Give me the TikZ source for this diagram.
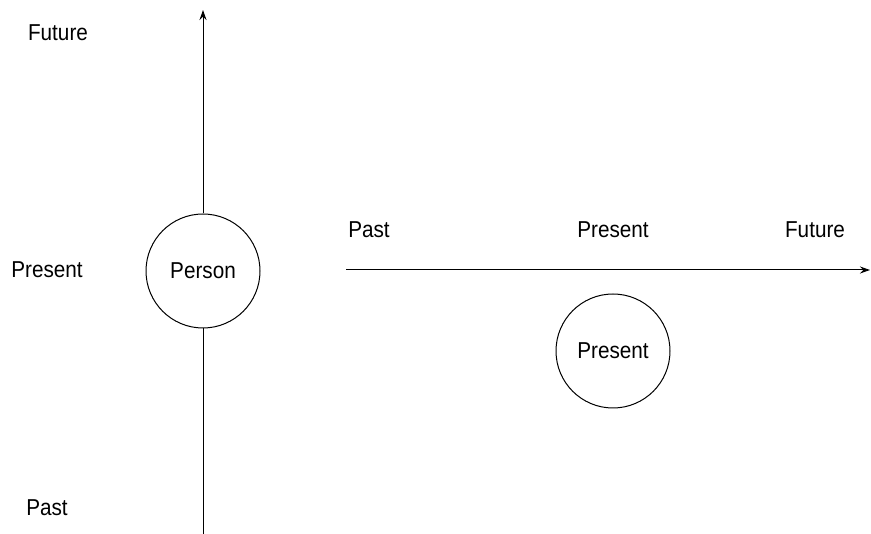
\documentclass[tikz,border=0pt]{standalone}
\usepackage{fontspec}
\setmainfont{Liberation Sans}[FakeStretch=0.9]
\usetikzlibrary{arrows.meta}
\begin{document}
\begin{tikzpicture}[x=1pt,y=-1pt,
  lbl/.style={inner sep=0pt,font=\fontsize{23}{26}\selectfont},
  circ/.style={draw,circle,minimum size=114pt,inner sep=0pt,line width=1pt,font=\fontsize{23}{26}\selectfont},
  axis/.style={line width=1pt,-{Stealth[length=10pt,width=7pt]}}]
\useasboundingbox (0,0) rectangle (871,534);
\node[circ] (person) at (203,271) {Person};
\node[circ] (present) at (613,351) {Present};
\coordinate (vbot) at (203,534);
\coordinate (vtop) at (203,10);
\coordinate (hleft) at (346,270);
\coordinate (hright) at (870,270);
\draw[line width=1pt] (vbot) -- (person);
\draw[axis] (person) -- (vtop);
\draw[axis] (hleft) -- (hright);
\node[lbl] (lfut) at (58,33) {Future};
\node[lbl] (lpres) at (47,270) {Present};
\node[lbl] (lpast) at (47,508) {Past};
\node[lbl] (tpast) at (369,230) {Past};
\node[lbl] (tpres) at (613,230) {Present};
\node[lbl] (tfut) at (815,230) {Future};
\end{tikzpicture}
\end{document}
